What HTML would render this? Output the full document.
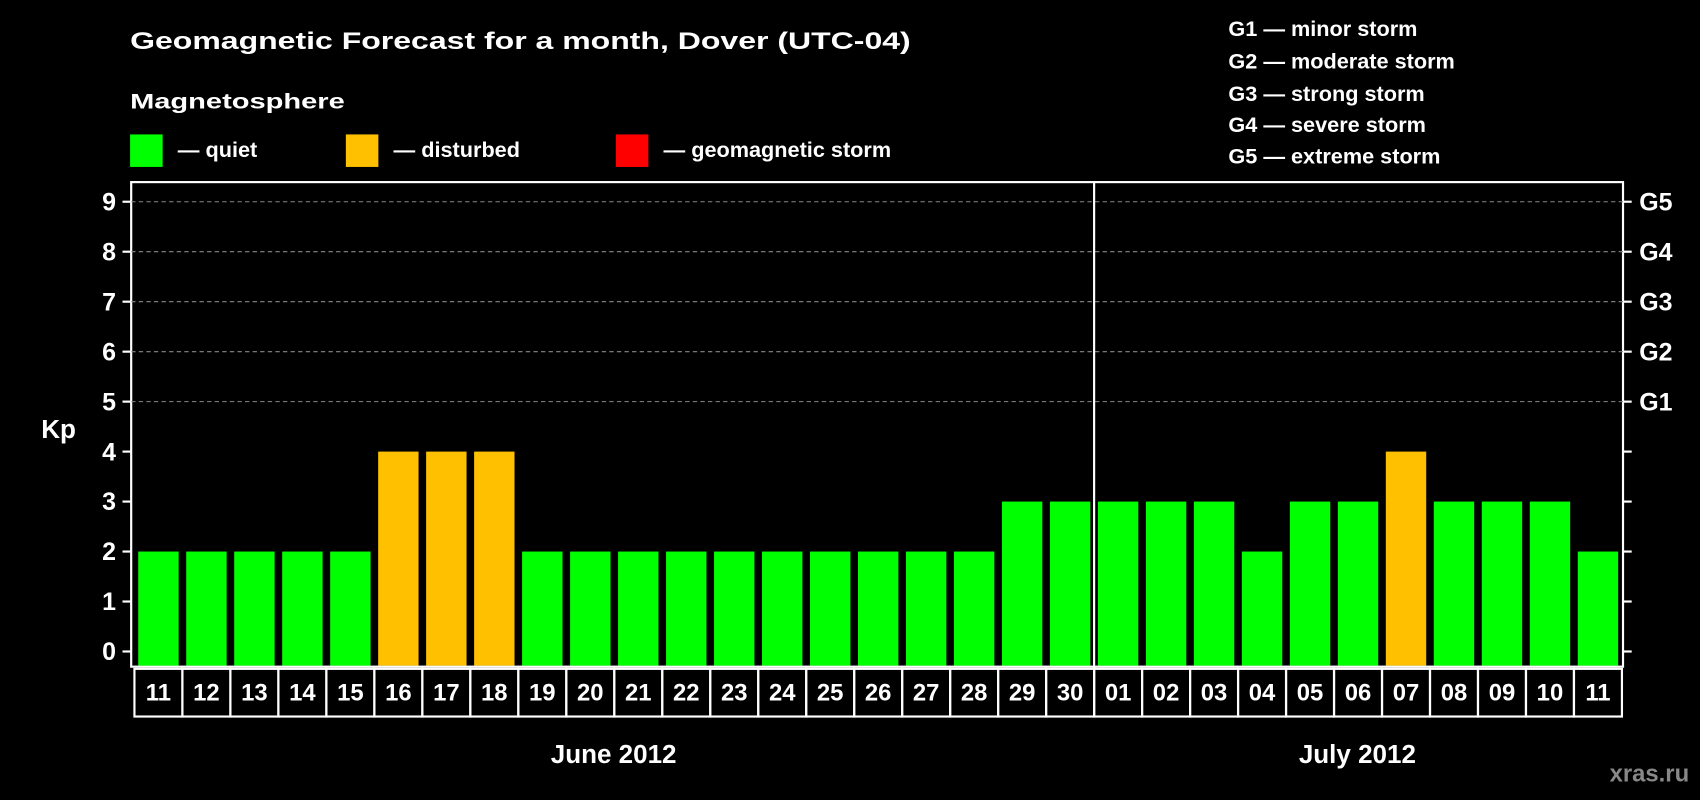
<!DOCTYPE html>
<html><head><meta charset="utf-8"><style>
html,body{margin:0;padding:0;background:#000;}
svg{display:block;font-family:"Liberation Sans",Arial,sans-serif;font-weight:bold;}
</style></head><body>
<svg id="chart" width="1700" height="800" viewBox="0 0 1568 738" preserveAspectRatio="none" xmlns="http://www.w3.org/2000/svg">
<rect width="1568" height="738" fill="#000"/>
<text x="120" y="45" fill="#fff" font-size="22" textLength="720" lengthAdjust="spacingAndGlyphs">Geomagnetic Forecast for a month, Dover (UTC-04)</text>
<text x="120" y="100" fill="#fff" font-size="20" textLength="198" lengthAdjust="spacingAndGlyphs">Magnetosphere</text>
<rect x="120" y="124" width="30" height="30" fill="#00ff00"/>
<text x="164" y="145" fill="#fff" font-size="20">— quiet</text>
<rect x="319" y="124" width="30" height="30" fill="#ffc000"/>
<text x="363" y="145" fill="#fff" font-size="20">— disturbed</text>
<rect x="568" y="124" width="30" height="30" fill="#ff0000"/>
<text x="612" y="145" fill="#fff" font-size="20">— geomagnetic storm</text>
<g fill="#fff" font-size="20">
<text x="1133" y="33">G1 — minor storm</text>
<text x="1133" y="63">G2 — moderate storm</text>
<text x="1133" y="93">G3 — strong storm</text>
<text x="1133" y="122">G4 — severe storm</text>
<text x="1133" y="151">G5 — extreme storm</text>
</g>
<text x="38" y="404" fill="#fff" font-size="24">Kp</text>
<text x="566" y="704" fill="#fff" font-size="24" text-anchor="middle">June 2012</text>
<text x="1252" y="704" fill="#fff" font-size="24" text-anchor="middle">July 2012</text>
<text x="1558" y="721" fill="#888" font-size="22" text-anchor="end">xras.ru</text>
<g id="plot"></g>
</svg>
<script>
const days = ["11","12","13","14","15","16","17","18","19","20","21","22","23","24","25","26","27","28","29","30","01","02","03","04","05","06","07","08","09","10","11"];
const kpValues = [2,2,2,2,2,4,4,4,2,2,2,2,2,2,2,2,2,2,3,3,3,3,3,2,3,3,4,3,3,3,2];
const yTicks = [0,1,2,3,4,5,6,7,8,9];
const gLabels = ["G1","G2","G3","G4","G5"];
const gLevels = [5,6,7,8,9];
const NS = "http://www.w3.org/2000/svg";
const plot = document.getElementById("plot");
const L = 121, R = 1497, T = 168, B = 615, cellL = 124, cellR = 1496, boxB = 661;
const y = v => 601 - v * 46.1;
const cw = (cellR - cellL) / days.length;
const x = i => cellL + i * cw;
function mk(tag, attrs) { const e = document.createElementNS(NS, tag); for (const k in attrs) e.setAttribute(k, attrs[k]); plot.appendChild(e); return e; }
const frame = mk("rect", {x:L, y:T, width:R-L, height:B-T, fill:"none", stroke:"#fff", "stroke-width":2});


gLevels.forEach(v => {
  const g = mk("line", {x1:L, x2:R, y1:y(v), y2:y(v), stroke:"#888", "stroke-width":1, "stroke-dasharray":"4,3"});
  
  
});
yTicks.forEach(v => {
  const t1 = mk("line", {x1:L-8, x2:L, y1:y(v), y2:y(v), stroke:"#fff", "stroke-width":2});
  
  
  const t2 = mk("line", {x1:R, x2:R+8, y1:y(v), y2:y(v), stroke:"#fff", "stroke-width":2});
  
  
  const lb = mk("text", {x:107, y:y(v)+8, fill:"#fff", "font-size":23, "text-anchor":"end"});
  lb.textContent = v;
  
  
});
gLevels.forEach((v, i) => {
  const lb = mk("text", {x:1512, y:y(v)+8, fill:"#fff", "font-size":23});
  lb.textContent = gLabels[i];
  
  
});
kpValues.forEach((v, i) => {
  const col = v >= 5 ? "#ff0000" : (v >= 4 ? "#ffc000" : "#00ff00");
  const b = mk("rect", {x:x(i)+3.5, y:y(v), width:cw-7, height:B-1-y(v), fill:col});
  
  
});
days.forEach((d, i) => {
  const c = mk("rect", {x:x(i), y:B+2, width:cw, height:boxB-B-2, fill:"none", stroke:"#fff", "stroke-width":2});
  
  
  const t = mk("text", {x:x(i)+cw/2, y:B+31, fill:"#fff", "font-size":22, "text-anchor":"middle"});
  t.textContent = d;
  
  
});
const sepIdx = days.indexOf("01");
const sep = mk("line", {x1:x(sepIdx), x2:x(sepIdx), y1:T, y2:boxB, stroke:"#fff", "stroke-width":2});


</script>
</body></html>
